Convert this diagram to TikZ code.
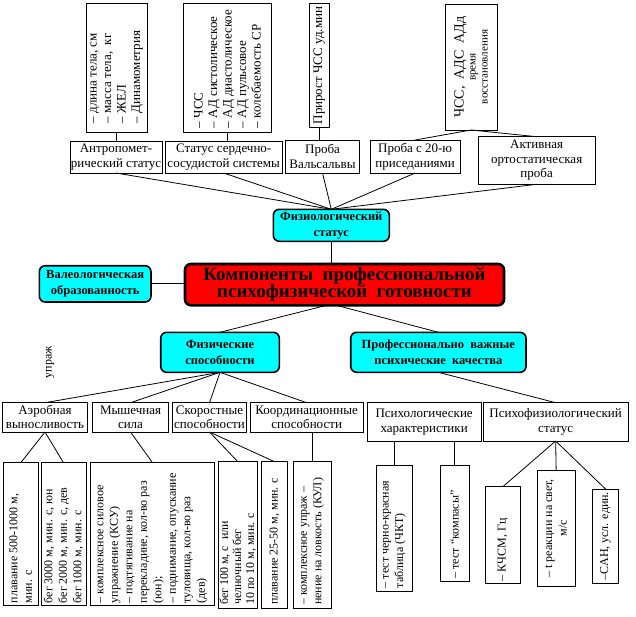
\documentclass[tikz,border=0pt]{standalone}
\usepackage{graphicx}
\usepackage{fontspec}
\setmainfont{Liberation Serif}
\usetikzlibrary{positioning, calc}
\definecolor{aqua}{RGB}{0,255,255}
\definecolor{alarm}{RGB}{255,0,0}
\tikzstyle{block} = [rectangle, draw, line width=0.9pt, align=center, inner sep=0.5pt, outer sep=0pt, fill=white, font=\fontsize{13}{14.5}\selectfont]
\tikzstyle{listing} = [rectangle, draw, line width=0.9pt, inner sep=0pt, outer sep=0pt, fill=white, font=\fontsize{12}{14.5}\selectfont]
\tikzstyle{topic} = [rectangle, rounded corners=6pt, draw, line width=1.6pt, fill=aqua, align=center, inner sep=1pt, outer sep=0pt, font=\bfseries\fontsize{12.5}{16}\selectfont]
\tikzstyle{headline} = [rectangle, rounded corners=6pt, draw, line width=2.6pt, fill=alarm, align=center, inner sep=1pt, outer sep=0pt, font=\bfseries\fontsize{19}{17.5}\selectfont]
\tikzstyle{link} = [line width=0.8pt, black]
\newcommand{\vlist}[2]{\rotatebox{90}{\parbox{#1pt}{\raggedright #2}}}

\begin{document}
\begin{tikzpicture}[x=1pt, y=-1pt]

	\path[use as bounding box, fill=white] (0,0) rectangle (636,616);

	% Physiological status: measured values
	\node (anthro_list) [listing, anchor=north west, minimum width=61.5pt, minimum height=129pt, font=\fontsize{13}{14.5}\selectfont] at (86,3) {\vlist{111}{– длина тела, см\\– масса тела,~ кг\\– ЖЕЛ\\– Динамометрия}};
	\node (cardio_list) [listing, anchor=north west, minimum width=88.4pt, minimum height=129pt, font=\fontsize{13}{14.5}\selectfont] at (183.3,3) {\vlist{121}{– ЧСС\\– АД систолическое\\– АД диастолическое\\– АД пульсовое\\– колебаемость СР}};
	\node (valsalva_list) [listing, anchor=north west, minimum width=19.7pt, minimum height=124.7pt, font=\fontsize{13}{14.5}\selectfont] at (309.3,3) {\vlist{118}{Прирост ЧСС уд.мин}};
	\node (recovery_list) [listing, anchor=north west, minimum width=52.3pt, minimum height=126pt] at (445,4) {\rotatebox{90}{\parbox{120pt}{\centering {\fontsize{14}{15}\selectfont ЧСС,~ АДС~ АДд\par}{\fontsize{11}{12}\selectfont время\\восстановления\par}}}};

	% Physiological status: tests
	\node (anthro) [block, anchor=north west, minimum width=92pt, minimum height=32pt] at (70,141) {Антропомет-\\рический статус};
	\node (cardio) [block, anchor=north west, minimum width=116.7pt, minimum height=32pt] at (165.3,141) {Статус сердечно-\\сосудистой системы};
	\node (valsalva) [block, anchor=north west, minimum width=73.6pt, minimum height=33pt] at (285.7,140) {Проба\\Вальсальвы};
	\node (squat) [block, anchor=north west, minimum width=90.3pt, minimum height=33pt] at (370,140) {Проба с 20-ю\\приседаниями};
	\node (ortho) [block, anchor=north west, minimum width=116.7pt, minimum height=47.6pt] at (478.3,136.7) {Активная\\ортостатическая\\проба};

	% Components
	\node (phys_status) [topic, anchor=north west, minimum width=116pt, minimum height=32pt] at (273.3,209.3) {Физиологический\\статус};
	\node (core) [headline, anchor=north west, minimum width=319pt, minimum height=41.3pt] at (185,264) {Компоненты~ профессиональной\\психофизической~ готовности};
	\node (valeo) [topic, anchor=north west, minimum width=111.7pt, minimum height=36.3pt] at (39.3,265.7) {Валеологическая\\образованность};
	\node (phys_abil) [topic, anchor=north west, minimum width=118.6pt, minimum height=40pt] at (160.7,332.3) {Физические\\способности};
	\node (prof_qual) [topic, anchor=north west, minimum width=175.3pt, minimum height=40pt] at (350.7,332.3) {Профессионально~ важные\\психические~ качества};
	\node (stray) [rotate=90, font=\fontsize{12}{14}\selectfont] at (50,362) {упраж};

	% Physical abilities
	\node (aero) [block, anchor=north west, minimum width=84.6pt, minimum height=29.3pt, font=\fontsize{13}{14}\selectfont] at (2.7,402.7) {Аэробная\\выносливость};
	\node (muscle) [block, anchor=north west, minimum width=75.6pt, minimum height=29.3pt, font=\fontsize{13}{14}\selectfont] at (92.7,402.7) {Мышечная\\сила};
	\node (speed) [block, anchor=north west, minimum width=74.4pt, minimum height=29.3pt, font=\fontsize{13}{14}\selectfont] at (172.3,402.7) {Скоростные\\способности};
	\node (coord) [block, anchor=north west, minimum width=113.3pt, minimum height=29.3pt, font=\fontsize{13}{14}\selectfont] at (250,402.7) {Координационные\\способности};

	% Psychic qualities
	\node (psych) [block, anchor=north west, minimum width=113.7pt, minimum height=38.3pt, font=\fontsize{13}{15}\selectfont] at (367.3,402.7) {Психологические\\характеристики};
	\node (psyphys) [block, anchor=north west, minimum width=144.7pt, minimum height=38.3pt, font=\fontsize{13}{15}\selectfont] at (483.3,402.7) {Психофизиологический\\статус};

	% Tests of abilities
	\node (aero_swim) [listing, anchor=north west, minimum width=35pt, minimum height=143pt] at (3.3,462.7) {\vlist{138}{плавание 500-1000 м,\\мин. с}};
	\node (aero_run) [listing, anchor=north west, minimum width=45pt, minimum height=143pt] at (41,462.7) {\vlist{138}{бег 3000 м, мин. с, юн\\бег 2000 м, мин. с, дев\\бег 1000 м, мин. с}};
	\node (muscle_list) [listing, anchor=north west, minimum width=123.6pt, minimum height=143pt] at (90.7,462.7) {\vlist{138}{– комплексное силовое\\упражнение (КСУ)\\– подтягивание на\\перекладине, кол-во раз\\(юн);\\– поднимание, опускание\\туловища, кол-во раз\\(дев)}};
	\node (speed_run) [listing, anchor=north west, minimum width=39pt, minimum height=146.3pt, font=\fontsize{12}{13}\selectfont] at (218.3,461.7) {\vlist{140}{бег 100 м, с~ или\\челночный бег\\10 по 10 м, мин. с}};
	\node (speed_swim) [listing, anchor=north west, minimum width=25.6pt, minimum height=146.3pt] at (261.7,461.7) {\vlist{140}{плавание 25-50 м, мин. с}};
	\node (coord_list) [listing, anchor=north west, minimum width=38.4pt, minimum height=146.3pt] at (293.3,461.7) {\vlist{140}{– комплексное упраж –\\нение на ловкость (КУЛ)}};

	% Tests of qualities
	\node (colour_test) [listing, anchor=north west, minimum width=36.7pt, minimum height=126pt] at (376,465) {\vlist{120}{– тест черно-красная\\таблица (ЧКТ)}};
	\node (compass_test) [listing, anchor=north west, minimum width=29.3pt, minimum height=116.7pt] at (440,465) {\vlist{110}{– тест “компасы”}};
	\node (flicker) [listing, anchor=north west, minimum width=34.3pt, minimum height=96.6pt] at (485.7,486.7) {\vlist{92}{– КЧСМ, Гц}};
	\node (reaction) [listing, anchor=north west, minimum width=37.7pt, minimum height=116.7pt] at (537.3,470) {\vlist{110}{\centering – t реакции на свет,\\м/с}};
	\node (mood) [listing, anchor=north west, minimum width=25.6pt, minimum height=94pt] at (592.7,489) {\vlist{88}{–САН, усл. един.}};

	% Links - top
	\draw[link] (anthro_list.south) -- (anthro_list.south |- anthro.north);
	\draw[link] (cardio_list.south) -- (cardio_list.south |- cardio.north);
	\draw[link] (valsalva_list.south) -- (valsalva_list.south |- valsalva.north);
	\draw[link] (recovery_list.south) -- (squat.north);
	\draw[link] (recovery_list.south) -- (ortho.north);

	\draw[link] (anthro.south) -- (phys_status.north);
	\draw[link] (cardio.south) -- (phys_status.north);
	\draw[link] (valsalva.south) -- (phys_status.north);
	\draw[link] (squat.south) -- (phys_status.north);
	\draw[link] (ortho.south) -- (phys_status.north);

	% Links - centre
	\draw[link] (phys_status.south) -- (phys_status.south |- core.north);
	\draw[link] (valeo.east) -- (valeo.east -| core.west);
	\draw[link] ([xshift=-18pt]core.south) -- (phys_abil.north);
	\draw[link] ([xshift=-8pt]core.south) -- (prof_qual.north);

	% Links - abilities
	\draw[link] (phys_abil.south) -- (aero.north);
	\draw[link] (phys_abil.south) -- (muscle.north);
	\draw[link] (phys_abil.south) -- (speed.north);
	\draw[link] (phys_abil.south) -- (coord.north);
	\draw[link] (prof_qual.south) -- (psyphys.north);

	% Links - bottom
	\draw[link] (aero.south) -- (aero_swim.north);
	\draw[link] (aero.south) -- (aero_run.north);
	\draw[link] (muscle.south) -- (muscle_list.north);
	\draw[link] (speed.south) -- (speed_run.north);
	\draw[link] (speed.south) -- (speed_swim.north);
	\draw[link] (coord_list.north) -- (coord_list.north |- coord.south);
	\draw[link] (colour_test.north) -- (colour_test.north |- psych.south);
	\draw[link] (compass_test.north) -- (compass_test.north |- psych.south);
	\draw[link] (psyphys.south) -- (flicker.north);
	\draw[link] (psyphys.south) -- (reaction.north);
	\draw[link] (psyphys.south) -- (mood.north);

\end{tikzpicture}
\end{document}
